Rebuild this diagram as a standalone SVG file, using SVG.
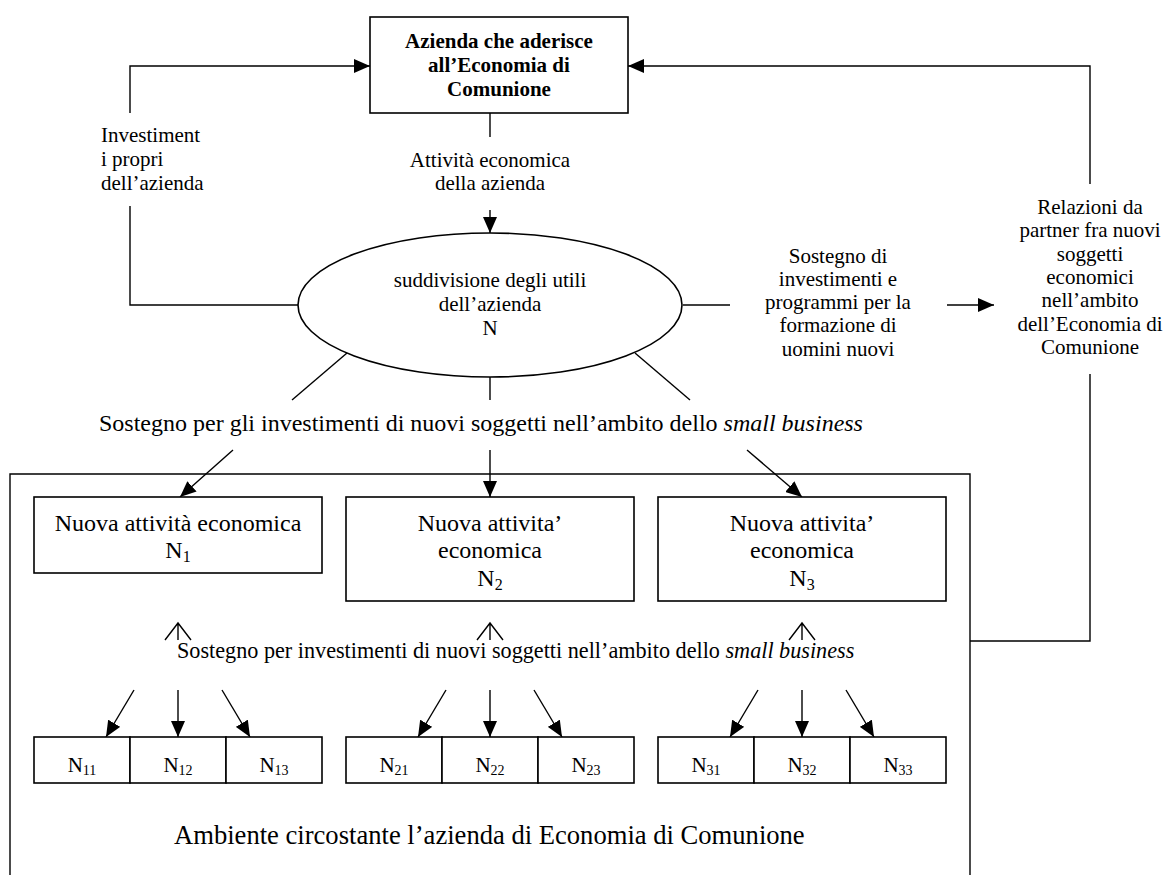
<svg xmlns="http://www.w3.org/2000/svg" width="1165" height="875" viewBox="0 0 1165 875">
<style>
text{font-family:"Liberation Serif","Times New Roman",serif;fill:#000}
.s{font-size:21px}
.m{font-size:24px}
.c{text-anchor:middle}
.b{font-weight:bold}
.box{fill:#fff;stroke:#000;stroke-width:1.6}
.ln{fill:none;stroke:#000;stroke-width:1.4}
.sub{font-size:14px}
</style>
<defs>
<marker id="ah" viewBox="0 0 16 14" refX="16" refY="7" markerWidth="16" markerHeight="14" markerUnits="userSpaceOnUse" orient="auto">
<path d="M0,0 L16,7 L0,14 z" fill="#000"/>
</marker>
</defs>
<rect width="1165" height="875" fill="#fff"/>

<g id="env">
<path class="ln" d="M10,880 L10,474 L970,474 L970,880" stroke-width="1.6"/>
<text x="174" y="844" style="font-size:26.6px">Ambiente circostante l’azienda di Economia di Comunione</text>
</g>

<g id="connectors">
<path class="ln" d="M130,113 L130,66 L370,66" marker-end="url(#ah)"/>
<path class="ln" d="M130,206 L130,305 L298,305"/>
<path class="ln" d="M490,113 L490,137"/>
<path class="ln" d="M490,210 L490,233" marker-end="url(#ah)"/>
<path class="ln" d="M683,305 L730,305"/>
<path class="ln" d="M947,305 L994,305" marker-end="url(#ah)"/>
<path class="ln" d="M1090,184 L1090,66 L628,66" marker-end="url(#ah)"/>
<path class="ln" d="M1090,374 L1090,641 L970,641"/>
<path class="ln" d="M347,353 L292,400"/>
<path class="ln" d="M490,377 L490,400"/>
<path class="ln" d="M635,353 L690,400"/>
<path class="ln" d="M233,450 L180,497" marker-end="url(#ah)"/>
<path class="ln" d="M490,450 L490,497" marker-end="url(#ah)"/>
<path class="ln" d="M747,450 L802,497" marker-end="url(#ah)"/>
<path class="ln" d="M165,640 L178,623 L191,640 M178,623 L178,640"/>
<path class="ln" d="M477,640 L490,623 L503,640 M490,623 L490,640"/>
<path class="ln" d="M789,640 L802,623 L815,640 M802,623 L802,640"/>
<path class="ln" d="M134,690 L106,737" marker-end="url(#ah)"/>
<path class="ln" d="M178,690 L178,737" marker-end="url(#ah)"/>
<path class="ln" d="M222,690 L250,737" marker-end="url(#ah)"/>
<path class="ln" d="M446,690 L418,737" marker-end="url(#ah)"/>
<path class="ln" d="M490,690 L490,737" marker-end="url(#ah)"/>
<path class="ln" d="M534,690 L562,737" marker-end="url(#ah)"/>
<path class="ln" d="M758,690 L730,737" marker-end="url(#ah)"/>
<path class="ln" d="M802,690 L802,737" marker-end="url(#ah)"/>
<path class="ln" d="M846,690 L874,737" marker-end="url(#ah)"/>
</g>

<g id="labels">
<text class="s" x="101" y="142">Investiment</text>
<text class="s" x="101" y="166">i propri</text>
<text class="s" x="101" y="190">dell’azienda</text>
<text class="s c" x="490" y="167">Attività economica</text>
<text class="s c" x="490" y="190">della azienda</text>
<text class="s c" x="838" y="263">Sostegno di</text>
<text class="s c" x="838" y="286">investimenti e</text>
<text class="s c" x="838" y="309">programmi per la</text>
<text class="s c" x="838" y="332">formazione di</text>
<text class="s c" x="838" y="356">uomini nuovi</text>
<text class="s c" x="1090" y="214">Relazioni da</text>
<text class="s c" x="1090" y="237">partner fra nuovi</text>
<text class="s c" x="1090" y="261">soggetti</text>
<text class="s c" x="1090" y="284">economici</text>
<text class="s c" x="1090" y="307">nell’ambito</text>
<text class="s c" x="1090" y="331">dell’Economia di</text>
<text class="s c" x="1090" y="354">Comunione</text>
<text class="m" x="99" y="431">Sostegno per gli investimenti di nuovi soggetti nell’ambito dello <tspan font-style="italic">small business</tspan></text>
<text x="177" y="658" style="font-size:22.2px">Sostegno per investimenti di nuovi soggetti nell’ambito dello <tspan font-style="italic">small business</tspan></text>
</g>

<g id="azienda">
<rect class="box" x="370" y="17" width="258" height="96" stroke-width="2"/>
<text class="s c b" x="499" y="48">Azienda che aderisce</text>
<text class="s c b" x="499" y="72">all’Economia di</text>
<text class="s c b" x="499" y="96">Comunione</text>
</g>

<g id="utili">
<ellipse class="box" cx="490" cy="305" rx="192" ry="72"/>
<text class="s c" x="490" y="287">suddivisione degli utili</text>
<text class="s c" x="490" y="311">dell’azienda</text>
<text class="s c" x="490" y="335">N</text>
</g>

<g id="n1">
<rect class="box" x="34" y="497" width="288" height="76"/>
<text class="m c" x="178" y="531">Nuova attività economica</text>
<text class="m c" x="178" y="558">N<tspan font-size="16" dy="4">1</tspan></text>
</g>
<g id="n2">
<rect class="box" x="346" y="497" width="288" height="104"/>
<text class="m c" x="490" y="531">Nuova attivita’</text>
<text class="m c" x="490" y="558">economica</text>
<text class="m c" x="490" y="586">N<tspan font-size="16" dy="4">2</tspan></text>
</g>
<g id="n3">
<rect class="box" x="658" y="497" width="288" height="104"/>
<text class="m c" x="802" y="531">Nuova attivita’</text>
<text class="m c" x="802" y="558">economica</text>
<text class="m c" x="802" y="586">N<tspan font-size="16" dy="4">3</tspan></text>
</g>

<g id="n11"><rect class="box" x="34" y="737" width="96" height="46"/><text class="s c" x="82" y="772">N<tspan class="sub" dy="3">11</tspan></text></g>
<g id="n12"><rect class="box" x="130" y="737" width="96" height="46"/><text class="s c" x="178" y="772">N<tspan class="sub" dy="3">12</tspan></text></g>
<g id="n13"><rect class="box" x="226" y="737" width="96" height="46"/><text class="s c" x="274" y="772">N<tspan class="sub" dy="3">13</tspan></text></g>
<g id="n21"><rect class="box" x="346" y="737" width="96" height="46"/><text class="s c" x="394" y="772">N<tspan class="sub" dy="3">21</tspan></text></g>
<g id="n22"><rect class="box" x="442" y="737" width="96" height="46"/><text class="s c" x="490" y="772">N<tspan class="sub" dy="3">22</tspan></text></g>
<g id="n23"><rect class="box" x="538" y="737" width="96" height="46"/><text class="s c" x="586" y="772">N<tspan class="sub" dy="3">23</tspan></text></g>
<g id="n31"><rect class="box" x="658" y="737" width="96" height="46"/><text class="s c" x="706" y="772">N<tspan class="sub" dy="3">31</tspan></text></g>
<g id="n32"><rect class="box" x="754" y="737" width="96" height="46"/><text class="s c" x="802" y="772">N<tspan class="sub" dy="3">32</tspan></text></g>
<g id="n33"><rect class="box" x="850" y="737" width="96" height="46"/><text class="s c" x="898" y="772">N<tspan class="sub" dy="3">33</tspan></text></g>
</svg>
